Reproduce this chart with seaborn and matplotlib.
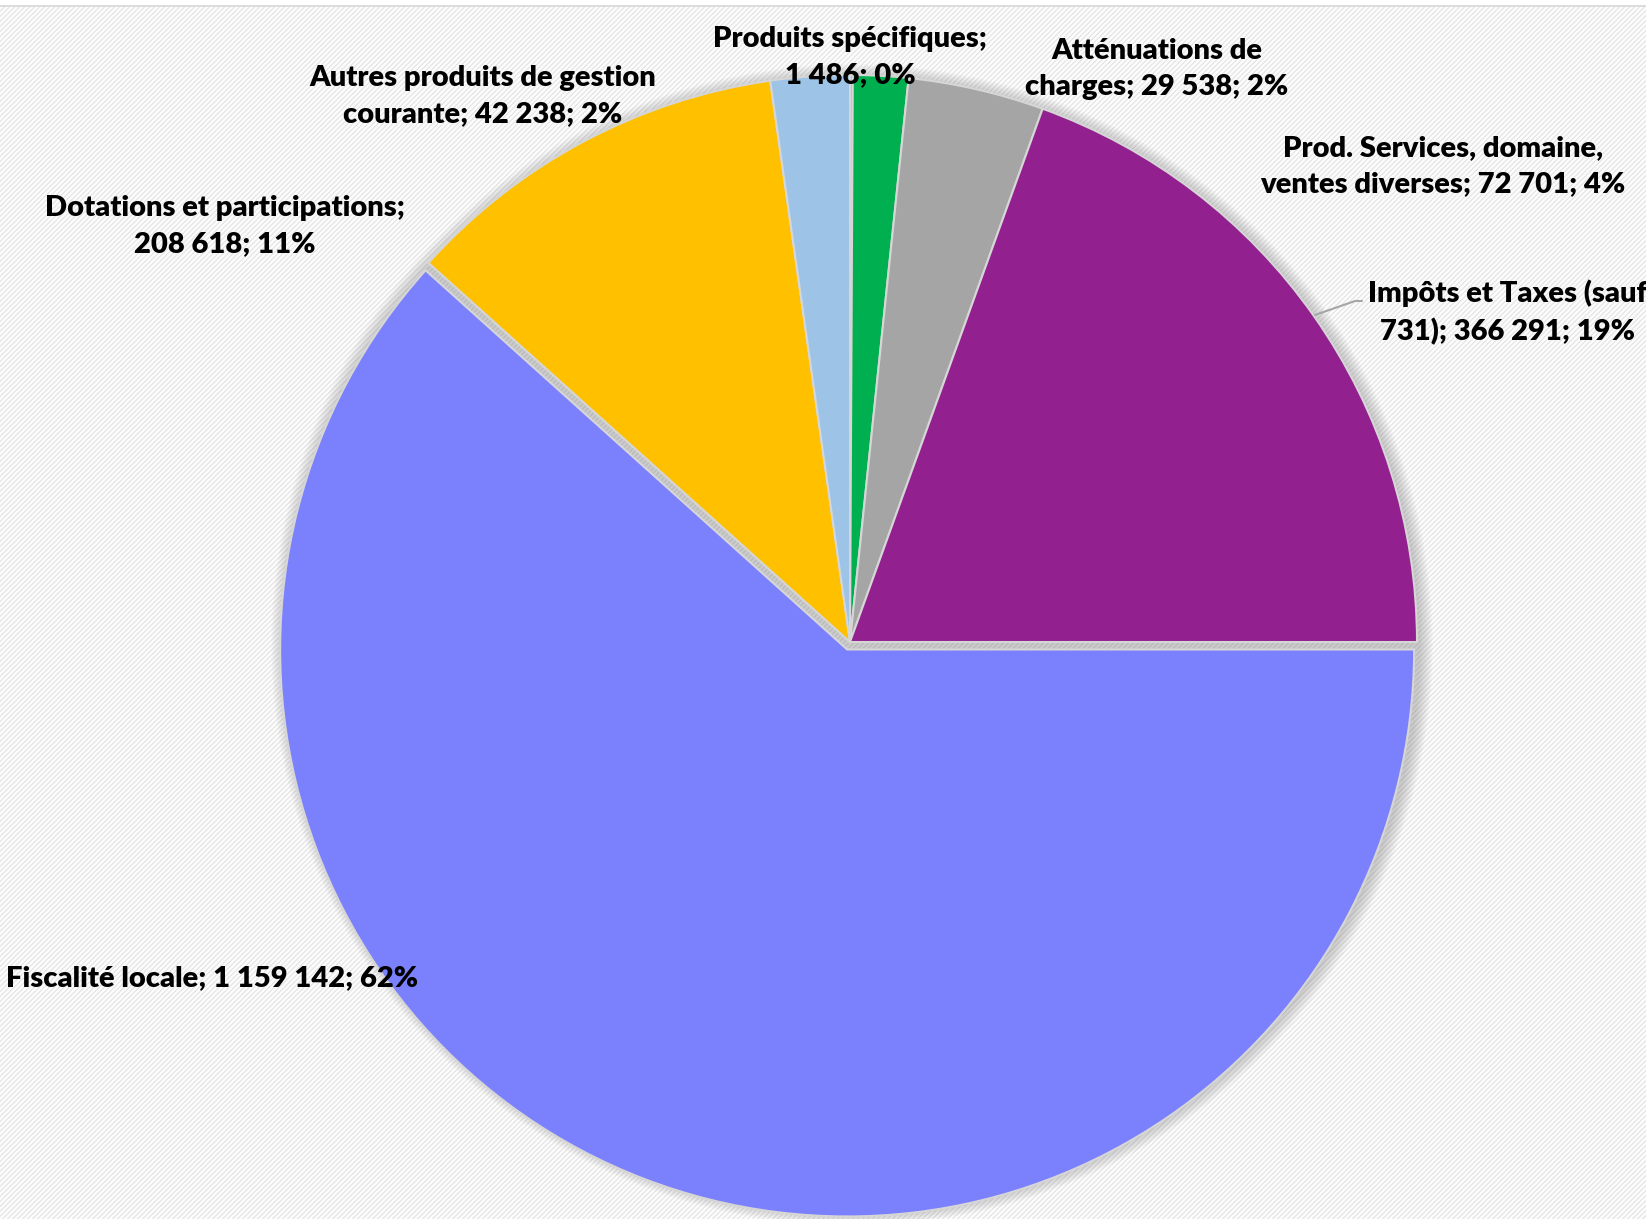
import numpy as np
import matplotlib.pyplot as plt
import seaborn as sns
from matplotlib.patches import Circle

sns.set_theme(style="white")
plt.rcParams['font.family'] = ['Lato', 'DejaVu Sans']

# data
categories = [
    "Produits spécifiques",
    "Atténuations de charges",
    "Prod. Services, domaine, ventes diverses",
    "Impôts et Taxes (sauf 731)",
    "Fiscalité locale",
    "Dotations et participations",
    "Autres produits de gestion courante",
]
values = [1486, 29538, 72701, 366291, 1159142, 208618, 42238]
label_texts = [
    "Produits spécifiques;\n1 486; 0%",
    "Atténuations de\ncharges; 29 538; 2%",
    "Prod. Services, domaine,\nventes diverses; 72 701; 4%",
    "Impôts et Taxes (sauf\n731); 366 291; 19%",
    "Fiscalité locale; 1 159 142; 62%",
    "Dotations et participations;\n208 618; 11%",
    "Autres produits de gestion\ncourante; 42 238; 2%",
]
colors = ["#EE7BE6", "#00B050", "#A5A5A5", "#92208F", "#7B80FC", "#FFC000", "#9DC3E6"]

# layout (pixels, y from top)
W, H = 1646, 1219
center = (850, 642)
radius = 567
explode = [0, 0, 0, 0, 8, 0, 0]
label_pos = [(850, 57), (1157, 69), (1443, 166), (1508, 312), (212, 978), (225, 226), (483, 96)]

fig = plt.figure(figsize=(W / 100, H / 100), dpi=100)
ax = fig.add_axes([0, 0, 1, 1])

# striped background
yy, xx = np.mgrid[0:H, 0:W]
bg = np.where((xx + yy) % 5 < 2, 0.91, 0.985)
bg[:5, :] = 1.0
bg[5:7, :] = 0.86
ax.imshow(bg, cmap='gray', vmin=0, vmax=1, origin='upper', extent=(0, W, 0, H),
          interpolation='nearest', zorder=0)

cx, cy = center[0], H - center[1]

# soft shadow
for i in range(14):
    ax.add_patch(Circle((cx + 2, cy - 3), radius + 14 - i, color='#808080',
                        alpha=0.03, lw=0, zorder=1))

wedges, _ = ax.pie(values, colors=colors, startangle=90, counterclock=False,
                   center=(cx, cy), radius=radius, explode=explode,
                   wedgeprops=dict(edgecolor='#D6D6D6', linewidth=1.5))
for w in wedges:
    w.set_zorder(2)

# leader line for Impôts
ax.plot([1315, 1355, 1362], [H - 315, H - 301, H - 301], color='#A6A6A6', lw=1.5, zorder=3)

for txt, (x, y) in zip(label_texts, label_pos):
    ax.text(x, H - y, txt, ha='center', va='center', fontsize=21,
            fontweight='heavy', color='black', linespacing=1.5, zorder=4)

ax.set_xlim(0, W)
ax.set_ylim(0, H)
ax.set_aspect('equal')
ax.axis('off')

fig.savefig("out.png", dpi=100)
